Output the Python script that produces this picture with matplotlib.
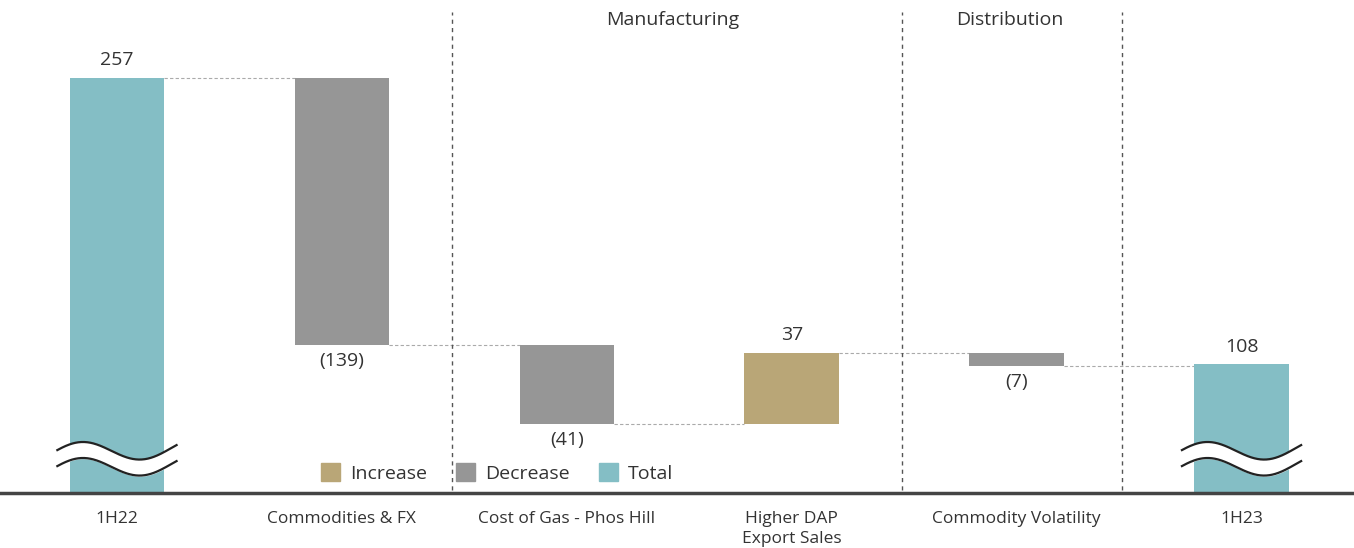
import numpy as np
import matplotlib.pyplot as plt
from matplotlib.patches import Patch

plt.rcParams['font.family'] = ['Open Sans', 'DejaVu Sans']

categories = ["1H22", "Commodities & FX", "Cost of Gas - Phos Hill",
              "Higher DAP\nExport Sales", "Commodity Volatility", "1H23"]
changes = [257, -139, -41, 37, -7, 108]
kinds = ["total", "decrease", "decrease", "increase", "decrease", "total"]
labels = ["257", "(139)", "(41)", "37", "(7)", "108"]
groups = ["Manufacturing", "Distribution"]
group_pos = [2.47, 3.97]
separators = [1.49, 3.49, 4.47]

colors = {"increase": "#B9A677", "decrease": "#969696", "total": "#84BEC5"}
txt = "#333333"

fig = plt.figure(figsize=(13.54, 5.48), dpi=100)
ax = fig.add_axes([0, 55 / 548, 1, 493 / 548])

y_lo, y_hi = 41.1, 297.6
width = 0.42
x = np.arange(len(categories))

level = 0
ends = []
for i, (c, k) in enumerate(zip(changes, kinds)):
    if k == "total":
        bottom, top = 0, c
        level = c
    else:
        start = level
        level = level + c
        bottom, top = min(start, level), max(start, level)
    ax.bar(x[i], top - bottom, bottom=bottom, width=width,
           color=colors[k], zorder=2)
    ends.append((bottom, top, level))
    if c >= 0:
        ax.text(x[i], top + 4.5, labels[i], ha="center", va="bottom",
                fontsize=14, color=txt)
    else:
        ax.text(x[i], bottom - 3.5, labels[i], ha="center", va="top",
                fontsize=14, color=txt)

# connectors between consecutive bars
for i in range(len(categories) - 1):
    lv = ends[i][2]
    ax.plot([x[i] + width / 2, x[i + 1] - width / 2], [lv, lv],
            ls=(0, (3, 2)), lw=0.8, color="#aaaaaa", zorder=1)

# group separators and headings
for s in separators:
    ax.axvline(s, ymin=0.006, ymax=0.976, color="#555555", lw=1,
               ls=(0, (3, 3)), zorder=1)
for g, gx in zip(groups, group_pos):
    ax.text(gx, 257 + 78 / 1.922 - 20 / 1.922, g, ha="center", va="center",
            fontsize=14, color=txt)

# axis break marks on the total bars
px = 1 / 1.922
t = np.linspace(0, 1, 200)
for i in [0, 5]:
    wx = x[i] - 0.265 + 0.53 * t
    top_line = 257 - (453 - 10 * np.sin(2 * np.pi * t + 0.3) - 5 * t - 78) * px
    bot_line = top_line - 16 * px
    ax.fill_between(wx, bot_line, top_line, color="white", zorder=3)
    ax.plot(wx, top_line, color="#222222", lw=1.6, zorder=4)
    ax.plot(wx, bot_line, color="#222222", lw=1.6, zorder=4)

ax.set_xlim(-0.52, 5.5)
ax.set_ylim(y_lo, y_hi)
ax.set_xticks(x)
ax.set_xticklabels(categories, fontsize=12.5, color=txt, linespacing=1.3)
ax.tick_params(axis="x", length=0, pad=13)
ax.set_yticks([])
for sp in ["top", "left", "right"]:
    ax.spines[sp].set_visible(False)
ax.spines["bottom"].set_color("#444444")
ax.spines["bottom"].set_linewidth(2.5)
ax.spines["bottom"].set_zorder(5)

handles = [Patch(color=colors["increase"], label="Increase"),
           Patch(color=colors["decrease"], label="Decrease"),
           Patch(color=colors["total"], label="Total")]
ax.legend(handles=handles, ncol=3, loc="center", frameon=False,
          bbox_to_anchor=(497 / 1354, 20 / 493), fontsize=14,
          handlelength=1.0, handleheight=1.0, handletextpad=0.5,
          columnspacing=1.5, labelcolor=txt)

plt.savefig("out.png", dpi=100)
